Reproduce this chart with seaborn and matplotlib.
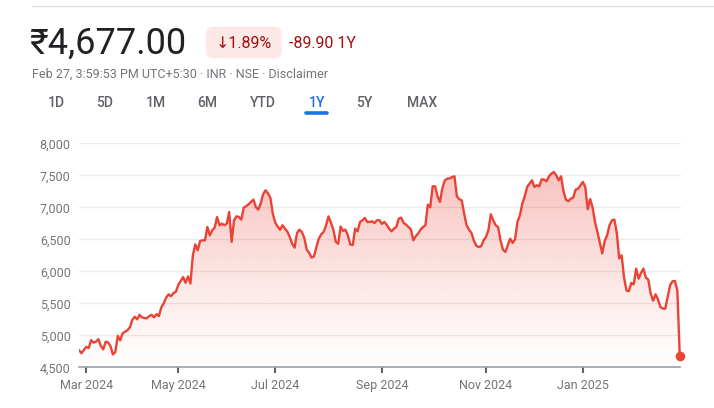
import numpy as np
import pandas as pd
import matplotlib
matplotlib.use("Agg")
import matplotlib.pyplot as plt
import seaborn as sns
from matplotlib.patches import FancyBboxPatch, Polygon
from matplotlib.transforms import IdentityTransform
from matplotlib.colors import to_rgb
from matplotlib.lines import Line2D

# ---------------- data (one value per trading session, Feb 2024 -> Feb 27 2025) -------------
prices = [
    4770, 4720, 4770, 4820, 4800, 4925, 4885, 4900, 4940, 4835,
    4780, 4900, 4890, 4830, 4700, 4740, 4990, 4920, 5030, 5055,
    5080, 5125, 5240, 5290, 5250, 5320, 5280, 5270, 5265, 5300,
    5320, 5280, 5330, 5300, 5440, 5500, 5590, 5640, 5610, 5660,
    5680, 5790, 5850, 5910, 5820, 5920, 5810, 6250, 6420, 6330,
    6474, 6484, 6484, 6693, 6562, 6641, 6682, 6849, 6719, 6745,
    6719, 6745, 6927, 6460, 6797, 6859, 6849, 6807, 6995, 7016,
    7047, 7083, 7120, 7005, 6964, 7057, 7203, 7266, 7220, 7150,
    6900, 6760, 6700, 6650, 6719, 6667, 6620, 6536, 6432, 6370,
    6600, 6650, 6615, 6521, 6339, 6287, 6214, 6234, 6380, 6510,
    6578, 6615, 6719, 6859, 6760, 6650, 6460, 6430, 6700, 6630,
    6651, 6560, 6420, 6410, 6667, 6625, 6771, 6797, 6833, 6771,
    6771, 6781, 6755, 6797, 6800, 6740, 6771, 6729, 6667, 6625,
    6667, 6693, 6823, 6839, 6755, 6729, 6693, 6656, 6484, 6547,
    6589, 6651, 6693, 6719, 7042, 7000, 7328, 7328, 7172, 7083,
    7300, 7420, 7448, 7450, 7474, 7484, 7170, 7125, 7109, 6900,
    6720, 6650, 6600, 6480, 6400, 6380, 6391, 6484, 6536, 6641,
    6891, 6797, 6719, 6693, 6484, 6339, 6302, 6406, 6510, 6443,
    6500, 6771, 6875, 7057, 7172, 7318, 7370, 7422, 7318, 7344,
    7328, 7438, 7432, 7406, 7484, 7526, 7552, 7500, 7422, 7484,
    7250, 7120, 7094, 7135, 7151, 7276, 7292, 7344, 7396, 7318,
    6970, 7130, 7000, 6771, 6615, 6450, 6280, 6470, 6562, 6719,
    6797, 6807, 6600, 6200, 6250, 5900, 5700, 5690, 5818, 5797,
    6042, 5885, 5974, 6042, 5900, 5870, 5650, 5540, 5641, 5560,
    5443, 5417, 5417, 5600, 5780, 5844, 5849, 5700, 4677,
]
tick_sessions = [3, 41, 81, 125, 168, 208]
tick_labels = ["Mar 2024", "May 2024", "Jul 2024", "Sep 2024", "Nov 2024", "Jan 2025"]
y_ticks = [4500, 5000, 5500, 6000, 6500, 7000, 7500, 8000]

price_text = "₹4,677.00"
pct_text = "↓1.89%"
abs_text = "-89.90 1Y"
sub_text = "Feb 27, 3:59:53 PM UTC+5:30 · INR · NSE · Disclaimer"
ranges = ["1D", "5D", "1M", "6M", "YTD", "1Y", "5Y", "MAX"]
active_range = "1Y"

# ---------------- style ----------------
W, H = 714, 408
RED = "#ea4335"
GRAY = "#70757a"
sns.set_theme(style="white")
plt.rcParams["font.family"] = ["Roboto", "DejaVu Sans"]

fig = plt.figure(figsize=(W / 100, H / 100), dpi=100)
fig.patch.set_facecolor("white")


def fx(px):
    return px / W


def fy(py):
    return 1 - py / H


# ---------------- chart ----------------
left, right, top, bottom = 79, 680.5, 143.3, 367.3
ax = fig.add_axes([fx(left), fy(bottom), fx(right - left), (bottom - top) / H])
df = pd.DataFrame({"session": np.arange(len(prices)), "price": prices})
n = len(prices)

sns.lineplot(data=df, x="session", y="price", ax=ax, color=RED, linewidth=1.7, zorder=3)

# gradient fill below the line
grad = np.linspace(0, 1, 256).reshape(-1, 1)
rgba = np.zeros((256, 1, 4))
rgba[..., :3] = to_rgb(RED)
rgba[..., 3] = 0.32 * grad[:, :] ** 1.1
im = ax.imshow(rgba, extent=[0, n - 1, 4500, max(prices)], origin="lower",
               aspect="auto", zorder=2, interpolation="bilinear")
verts = [(0, 4500)] + list(zip(df["session"], df["price"])) + [(n - 1, 4500)]
poly = Polygon(verts, closed=True, facecolor="none", edgecolor="none", transform=ax.transData)
ax.add_patch(poly)
im.set_clip_path(poly)

# last point dot
ax.scatter([df["session"].iloc[-1]], [df["price"].iloc[-1]], s=48, color=RED,
           zorder=5, clip_on=False, linewidths=0)

ax.set_xlim(0, n - 1 + 0.3)
ax.set_ylim(4500, 8000)
ax.set_yticks(y_ticks)
ax.set_yticklabels([f"{v:,}" for v in y_ticks])
ax.set_xticks(tick_sessions)
ax.set_xticklabels(tick_labels)
ax.set_xlabel("")
ax.set_ylabel("")
ax.grid(axis="y", color="#ebebeb", linewidth=1.0)
ax.grid(axis="x", visible=False)
for s in ["top", "right", "left"]:
    ax.spines[s].set_visible(False)
ax.spines["bottom"].set_color("#9aa0a6")
ax.spines["bottom"].set_linewidth(1.2)
ax.tick_params(axis="y", left=False, length=0, pad=6, labelsize=9, labelcolor=GRAY)
ax.tick_params(axis="x", bottom=True, length=4.5, width=1.5, color="#5f6368", pad=4,
               labelsize=9, labelcolor=GRAY, direction="out")
ax.set_facecolor("none")

# ---------------- header ----------------
fig.add_artist(Line2D([fx(32), fx(714)], [fy(6), fy(6)], color="#e3e3e3", linewidth=1,
                      transform=fig.transFigure))
fig.text(fx(29), fy(44), price_text, fontsize=26, color="#202124", va="center", ha="left")

badge = FancyBboxPatch((206, H - 58.3), 75.7, 31.6,
                       boxstyle="round,pad=0,rounding_size=7",
                       transform=IdentityTransform(), facecolor="#fce8e6", edgecolor="none")
fig.add_artist(badge)
fig.text(fx(243.5), fy(43), pct_text, fontsize=11.5, color="#a50e0e", va="center",
         ha="center")
fig.text(fx(289), fy(43), abs_text, fontsize=11.5, color="#a50e0e", va="center", ha="left")
fig.text(fx(32), fy(74.5), sub_text, fontsize=9, color=GRAY, va="center", ha="left")

range_x = [56, 105, 156, 207.3, 263.3, 316.7, 364.3, 421.7]
for lbl, xc in zip(ranges, range_x):
    col = "#1a73e8" if lbl == active_range else "#5f6368"
    fig.text(fx(xc), fy(103), lbl, fontsize=10, color=col, va="center", ha="center",
             fontweight="medium")
    if lbl == active_range:
        fig.add_artist(Line2D([fx(xc - 10.5), fx(xc + 10.5)], [fy(112.5), fy(112.5)],
                              color="#1a73e8", linewidth=2.6, solid_capstyle="round",
                              transform=fig.transFigure))

fig.savefig("out.png", dpi=100)
